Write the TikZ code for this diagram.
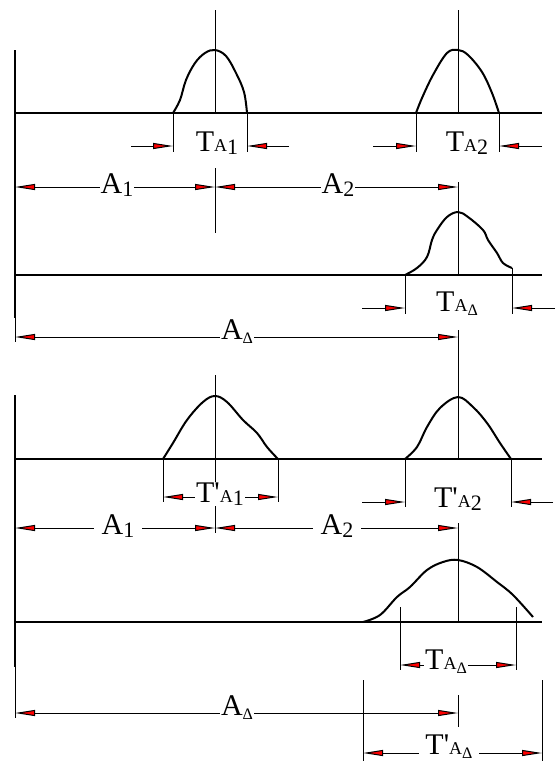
\documentclass[tikz,border=0pt]{standalone}
\usepackage{fontspec}
\setmainfont{Liberation Serif}
\usetikzlibrary{arrows.meta}

\newcommand{\bigsz}{\fontsize{30}{32}\selectfont}
\newcommand{\smA}{{\fontsize{18}{20}\selectfont A}}
\newcommand{\idx}[1]{\raisebox{-3pt}{\fontsize{22}{24}\selectfont #1}}
\newcommand{\idxD}{\raisebox{-4pt}{\fontsize{16}{18}\selectfont Δ}}

\begin{document}
\begin{tikzpicture}[
    x=1pt, y=-1pt,
    axisline/.style={line width=2pt},
    groundline/.style={line width=2pt},
    pulse/.style={line width=2pt, line join=round},
    thinline/.style={line width=1pt},
    dimarrow/.style={line width=1pt, -{Triangle[length=20pt, width=6pt, fill=red]}},
    dimboth/.style={line width=1pt, {Triangle[length=20pt, width=6pt, fill=red]}-{Triangle[length=20pt, width=6pt, fill=red]}},
    dimlabel/.style={fill=white, inner sep=1pt, font=\bigsz}
  ]
    \useasboundingbox (0,0) rectangle (557,761);

    % ---------- upper drawing ----------
    \draw[axisline] (15,50) -- (15,318);
    \draw[thinline] (15,318) -- (15,342);
    \draw[groundline] (15,113) -- (542,113);
    \draw[groundline] (15,275) -- (542,275);

    % pulse 1 and pulse 2
    \draw[pulse] plot[smooth, tension=0.6] coordinates {(173,113) (180,100) (186,80) (195,63) (205,53) (215,50) (226,56) (236,73) (244,92) (247,113)};
    \draw[pulse] plot[smooth, tension=0.6] coordinates {(416,113) (422,98) (433,75) (447,53) (458,50) (468,55) (482,72) (492,93) (499,113)};
    \draw[thinline] (215,10) -- (215,113);
    \draw[thinline] (458,10) -- (458,113);

    % T_A1
    \draw[thinline] (173,113) -- (173,152);
    \draw[thinline] (247,113) -- (247,152);
    \draw[dimarrow] (131,146) -- (173,146);
    \draw[dimarrow] (289,146) -- (247,146);
    \node[font=\bigsz, inner sep=0pt] (tA1) at (217,143) {T\smA\idx{1}};

    % T_A2
    \draw[thinline] (416,113) -- (416,152);
    \draw[thinline] (499,113) -- (499,152);
    \draw[dimarrow] (373,146) -- (416,146);
    \draw[dimarrow] (542,146) -- (499,146);
    \node[font=\bigsz, inner sep=0pt] (tA2) at (467,143) {T\smA\idx{2}};

    % A1 and A2
    \draw[thinline] (215,168) -- (215,233);
    \draw[dimboth] (15,187) -- (215,187);
    \draw[dimboth] (215,187) -- (458,187);
    \node[dimlabel] (a1) at (117,185) {A\idx{1}};
    \node[dimlabel] (a2) at (338,185) {A\idx{2}};

    % pulse 3
    \draw[pulse] plot[smooth, tension=0.6] coordinates {(405,275) (417,268) (427,257) (432,240) (437,230) (447,217) (458,212) (468,217) (483,230) (488,240) (497,253) (503,263) (512,268)};
    \draw[thinline] (458,182) -- (458,275);

    % T_A-delta
    \draw[thinline] (405,275) -- (405,314);
    \draw[thinline] (512,268) -- (512,314);
    \draw[dimarrow] (362,308) -- (405,308);
    \draw[dimarrow] (555,308) -- (512,308);
    \node[font=\bigsz, inner sep=0pt] (tAd) at (457,304) {T\smA\idxD};

    % A-delta
    \draw[dimboth] (15,337) -- (458,337);
    \node[dimlabel] (ad) at (237,332) {A\idxD};
    \draw[thinline] (458,330) -- (458,459);

    % ---------- lower drawing ----------
    \draw[axisline] (15,395) -- (15,667);
    \draw[thinline] (15,667) -- (15,718);
    \draw[groundline] (15,459) -- (542,459);
    \draw[groundline] (15,622) -- (542,622);

    % pulse 4 and pulse 5
    \draw[pulse] plot[smooth, tension=0.6] coordinates {(163,459) (173,443) (187,420) (203,402) (215,396) (227,402) (243,420) (257,433) (267,447) (278,459)};
    \draw[pulse] plot[smooth, tension=0.6] coordinates {(405,459) (417,447) (427,427) (440,408) (458,397) (473,407) (487,423) (500,443) (511,459)};
    \draw[thinline] (215,375) -- (215,533);

    % T'_A1
    \draw[thinline] (163,459) -- (163,502);
    \draw[thinline] (278,459) -- (278,502);
    \draw[dimboth] (163,497) -- (278,497);
    \node[dimlabel] (tpA1) at (220,494) {T\textquotesingle\smA\idx{1}};

    % T'_A2
    \draw[thinline] (405,459) -- (405,507);
    \draw[thinline] (511,459) -- (511,507);
    \draw[dimarrow] (362,502) -- (405,502);
    \draw[dimarrow] (553,502) -- (511,502);
    \node[font=\bigsz, inner sep=0pt] (tpA2) at (458,499) {T\textquotesingle\smA\idx{2}};

    % A1 and A2
    \draw[dimboth] (15,528) -- (215,528);
    \draw[dimboth] (215,528) -- (458,528);
    \node[dimlabel, inner xsep=8pt] (b1) at (118,526) {A\idx{1}};
    \node[dimlabel, inner xsep=8pt] (b2) at (337,526) {A\idx{2}};
    \draw[thinline] (458,523) -- (458,622);

    % pulse 6
    \draw[pulse] plot[smooth, tension=0.6] coordinates {(363,622) (380,615) (397,597) (410,587) (427,570) (443,562) (458,560) (477,567) (497,582) (513,595) (533,617)};

    % T_A-delta, lower
    \draw[thinline] (400,607) -- (400,670);
    \draw[thinline] (516,607) -- (516,670);
    \draw[dimboth] (400,665) -- (516,665);
    \node[dimlabel] (tAd2) at (446,662) {T\smA\idxD};

    % A-delta
    \draw[dimboth] (15,713) -- (458,713);
    \node[dimlabel] (bd) at (237,708) {A\idxD};
    \draw[thinline] (458,695) -- (458,727);

    % T'_A-delta
    \draw[thinline] (363,680) -- (363,761);
    \draw[thinline] (542,680) -- (542,761);
    \draw[dimboth] (363,753) -- (542,753);
    \node[dimlabel, inner xsep=6pt, anchor=south] (tpAd) at (449,760) {T\textquotesingle\smA\idxD};
  \end{tikzpicture}
\end{document}
